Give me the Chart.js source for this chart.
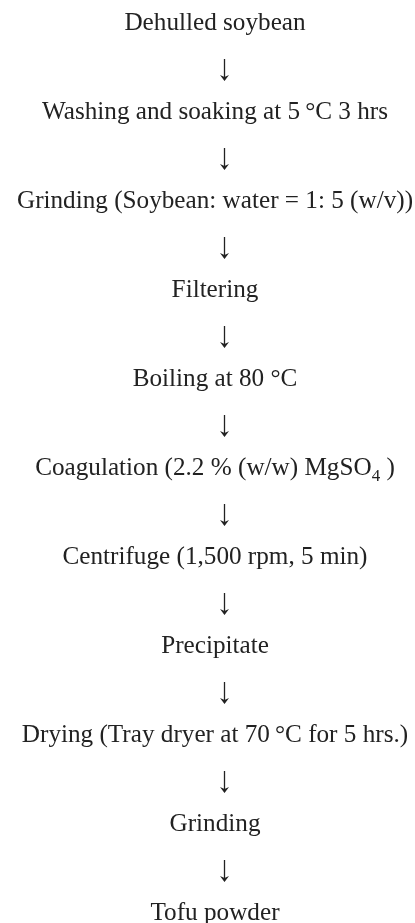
<!DOCTYPE html>
<html>
<head>
<meta charset="utf-8">
<script src="https://cdn.jsdelivr.net/npm/chart.js@4.4.1/dist/chart.umd.min.js"></script>
<style>
html,body{margin:0;padding:0;background:#fff;}
#wrap{width:415px;height:923px;}
</style>
</head>
<body>
<div id="wrap"><canvas id="c" width="415" height="923"></canvas></div>
<script>
// Flow steps (top to bottom); _{...} marks a subscript
const steps = [
  "Dehulled soybean",
  "Washing and soaking at 5\u2009\u00b0C 3 hrs",
  "Grinding (Soybean: water = 1: 5 (w/v))",
  "Filtering",
  "Boiling at 80 \u00b0C",
  "Coagulation (2.2 % (w/w) MgSO_{4} )",
  "Centrifuge (1,500 rpm, 5 min)",
  "Precipitate",
  "Drying (Tray dryer at 70\u2009\u00b0C for 5 hrs.)",
  "Grinding",
  "Tofu powder"
];
const stepOrder = steps.map((s, i) => i);
const arrowOrder = steps.slice(1).map((s, i) => i + 0.5);

const FONT = "'Liberation Serif', 'Times New Roman', serif";
const COLOR = "#222";

function parseRich(str) {
  const parts = [];
  const re = /_\{([^}]*)\}/g;
  let last = 0, m;
  while ((m = re.exec(str)) !== null) {
    if (m.index > last) parts.push({t: str.slice(last, m.index), sub: false});
    parts.push({t: m[1], sub: true});
    last = re.lastIndex;
  }
  if (last < str.length) parts.push({t: str.slice(last), sub: false});
  return parts;
}

const textPlugin = {
  id: 'flowText',
  afterDatasetsDraw(chart, args, opts) {
    const ctx = chart.ctx;
    ctx.save();
    ctx.fillStyle = COLOR;
    ctx.strokeStyle = COLOR;
    const size = opts.size, subSize = Math.round(opts.size * 0.68);
    // step labels
    chart.getDatasetMeta(0).data.forEach((pt, i) => {
      const parts = parseRich(steps[i]);
      let w = 0;
      parts.forEach(p => {
        ctx.font = (p.sub ? subSize : size) + "px " + FONT;
        p.w = ctx.measureText(p.t).width;
        w += p.w;
      });
      let x = pt.x - w / 2;
      ctx.textBaseline = 'alphabetic';
      ctx.textAlign = 'left';
      parts.forEach(p => {
        ctx.font = (p.sub ? subSize : size) + "px " + FONT;
        ctx.fillText(p.t, x, pt.y + (p.sub ? size * 0.22 : 0));
        x += p.w;
      });
    });
    // arrows
    chart.getDatasetMeta(1).data.forEach(pt => {
      const cx = Math.round(pt.x + opts.arrowDx) + 0.5;
      const cy = pt.y + opts.arrowDy;
      const h = opts.arrowLen / 2;
      ctx.lineWidth = 1.3;
      ctx.beginPath();
      ctx.moveTo(cx, cy - h);
      ctx.lineTo(cx, cy + h - 2);
      ctx.stroke();
      ctx.beginPath();
      ctx.moveTo(cx, cy + h);
      ctx.lineTo(cx - 4.5, cy + h - 6);
      ctx.lineTo(cx, cy + h - 4);
      ctx.lineTo(cx + 4.5, cy + h - 6);
      ctx.closePath();
      ctx.fill();
    });
    ctx.restore();
  }
};

new Chart(document.getElementById('c'), {
  type: 'scatter',
  data: {
    datasets: [
      { label: 'steps', data: stepOrder.map(v => ({x: 0, y: v})), pointRadius: 0, pointHoverRadius: 0 },
      { label: 'arrows', data: arrowOrder.map(v => ({x: 0, y: v})), pointRadius: 0, pointHoverRadius: 0 }
    ]
  },
  options: {
    responsive: false,
    animation: false,
    layout: { padding: 0 },
    events: [],
    plugins: {
      legend: { display: false },
      tooltip: { enabled: false },
      title: { display: false },
      flowText: { size: 25.2, arrowDx: 9, arrowDy: -4.5, arrowLen: 22 }
    },
    scales: {
      x: { type: 'linear', display: false, min: -215, max: 200 },
      y: { type: 'linear', display: false, reverse: true, min: -0.3371, max: 10.0337 }
    }
  },
  plugins: [textPlugin]
});
</script>
</body>
</html>
